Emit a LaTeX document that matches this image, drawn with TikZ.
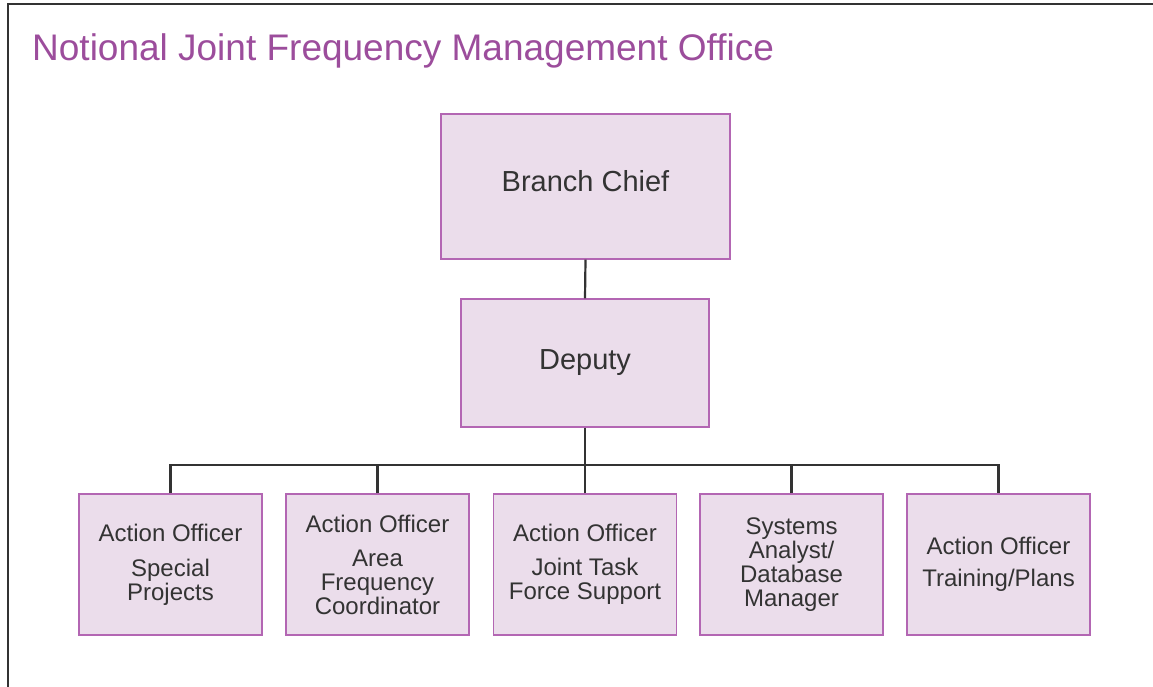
\documentclass[tikz,border=0pt]{standalone}
\usepackage{fontspec}
\setmainfont{Liberation Sans}
\definecolor{titlecol}{HTML}{9C4D9C}
\definecolor{boxfill}{HTML}{EBDDEB}
\definecolor{boxline}{HTML}{B366B3}
\definecolor{ink}{HTML}{333333}
\begin{document}
\begin{tikzpicture}[x=1pt,y=-1pt,
  orgbox/.style={draw=boxline, fill=boxfill, line width=1.4pt, text=ink, align=center, inner sep=0pt},
  topbox/.style={orgbox, font=\fontsize{29}{29}\selectfont},
  lowbox/.style={orgbox, minimum width=183pt, minimum height=141pt, font=\fontsize{24}{24}\selectfont},
  conn/.style={draw=ink, line width=2.2pt}]
\useasboundingbox (0,0) rectangle (1153,687);
\fill[white] (0,0) rectangle (1153,687);
\draw[ink, line width=2pt] (8,687) -- (8,4.5) -- (1153,4.5);
\node[anchor=base west, text=titlecol, font=\fontsize{37}{37}\selectfont, inner sep=0pt] (title) at (32,61) {Notional Joint Frequency Management Office};
\node[topbox, minimum width=289pt, minimum height=145pt, text depth=11pt] (bc) at (585.5,186.5) {Branch Chief};
\node[topbox, minimum width=248pt, minimum height=128pt] (dep) at (585,363) {Deputy};
\node[lowbox] (a1) at (170.5,564.5) {Action Officer\\[11pt]Special\\Projects};
\node[lowbox] (a2) at (377.5,564.5) {Action Officer\\[10pt]Area\\Frequency\\Coordinator};
\node[lowbox] (a3) at (585,564.5) {Action Officer\\[10pt]Joint Task\\Force Support};
\node[lowbox] (a4) at (791.5,564.5) {Systems\\Analyst/\\Database\\Manager};
\node[lowbox] (a5) at (998.5,564.5) {Action Officer\\[8pt]Training/Plans};
\coordinate (bus) at (585,465);
\draw[conn] (bc.south) -- (dep.north);
\draw[conn] (dep.south) -- (bus);
\draw[conn] (a1.north) |- (bus) -| (a5.north);
\draw[conn] (a2.north) -- (a2.north |- bus);
\draw[conn] (a3.north) -- (bus);
\draw[conn] (a4.north) -- (a4.north |- bus);
\end{tikzpicture}
\end{document}
